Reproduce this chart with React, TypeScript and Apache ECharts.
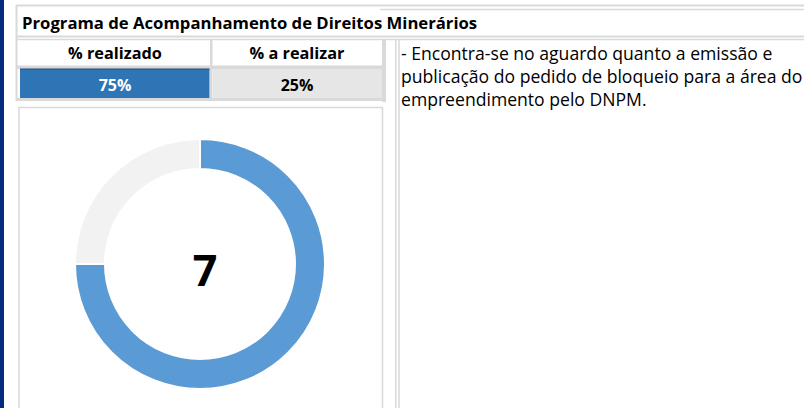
import React, { useEffect, useRef } from "react";
import * as echarts from "echarts";

const titleText = "Programa de Acompanhamento de Direitos Minerários";
const categories = ["% realizado", "% a realizar"];
const percentValues = [75, 25];
const centerLabel = "7";
const noteLines = [
  "- Encontra-se no aguardo quanto a emissão e",
  "publicação do pedido de bloqueio para a área do",
  "empreendimento pelo DNPM.",
];

const FONT = "'Open Sans', Lato, sans-serif";
const GRID = "#d9d9d9";

export default function App() {
  const ref = useRef<HTMLDivElement>(null);
  useEffect(() => {
    if (!ref.current) return;
    const chart = echarts.init(ref.current, undefined, { renderer: "svg" });
    const hline = (x1: number, x2: number, y: number, w = 2) => ({
      type: "line",
      shape: { x1, y1: y, x2, y2: y },
      style: { stroke: GRID, lineWidth: w },
      silent: true,
    });
    const vline = (x: number, y1: number, y2: number, w = 2) => ({
      type: "line",
      shape: { x1: x, y1, x2: x, y2 },
      style: { stroke: GRID, lineWidth: w },
      silent: true,
    });
    const txt = (
      text: string,
      x: number,
      y: number,
      size: number,
      weight: string,
      align: string,
      fill = "#000"
    ) => ({
      type: "text",
      x,
      y,
      style: {
        text,
        fill,
        font: `${weight} ${size}px ${FONT}`,
        align,
        verticalAlign: "middle",
      },
      silent: true,
    });

    const graphic: any[] = [
      { type: "rect", shape: { x: 0, y: 0, width: 4, height: 408 }, style: { fill: "#062a7d" } },
      // title row
      hline(16, 804, 5.5),
      hline(380, 804, 9.5, 1.5),
      hline(16, 804, 36.5),
      hline(16, 804, 39.5, 1.5),
      vline(16.5, 5, 101),
      txt(titleText, 22, 22, 16.7, "bold", "left"),
      // header row
      { type: "rect", shape: { x: 210, y: 40, width: 2.5, height: 58 }, style: { fill: GRID } },
      { type: "rect", shape: { x: 382, y: 40, width: 4, height: 62 }, style: { fill: GRID } },
      { type: "rect", shape: { x: 17, y: 65.5, width: 369, height: 3.5 }, style: { fill: GRID } },
      txt(categories[0], 115, 53, 16.3, "bold", "center"),
      txt(categories[1], 297, 53, 16.3, "bold", "center"),
      // value row
      { type: "rect", shape: { x: 20, y: 69, width: 189.5, height: 29 }, style: { fill: "#2e75b6" } },
      { type: "rect", shape: { x: 20, y: 68.5, width: 189.5, height: 1 }, style: { fill: "#1f4e79" } },
      { type: "rect", shape: { x: 213, y: 69, width: 169, height: 29 }, style: { fill: "#e7e6e6" } },
      txt(percentValues[0] + "%", 115, 85, 16, "bold", "center", "#ffffff"),
      txt(percentValues[1] + "%", 297, 85, 16, "bold", "center", "#000"),
      { type: "rect", shape: { x: 16, y: 98, width: 370, height: 3 }, style: { fill: GRID } },
      // chart box
      {
        type: "rect",
        shape: { x: 19, y: 107.5, width: 363.5, height: 310 },
        style: { fill: "none", stroke: GRID, lineWidth: 1.5 },
        silent: true,
      },
      // right panel
      vline(395.8, 40, 408, 1.5),
      vline(399, 40, 408, 1.5),
      ...noteLines.map((l, i) => txt(l, 401, 52.5 + i * 23, 17.6, "normal", "left")),
      // center label
      txt(centerLabel, 205, 269, 43, "bold", "center"),
    ];

    chart.setOption({
      animation: false,
      graphic,
      series: [
        {
          type: "pie",
          center: [200, 264],
          radius: [95, 125],
          startAngle: 90,
          clockwise: true,
          label: { show: false },
          labelLine: { show: false },
          silent: true,
          itemStyle: { borderColor: "#ffffff", borderWidth: 2 },
          data: categories.map((c, i) => ({
            name: c,
            value: percentValues[i],
            itemStyle: { color: i === 0 ? "#5b9bd5" : "#f2f2f2" },
          })),
        },
      ],
    });
    return () => chart.dispose();
  }, []);
  return (
    <div
      ref={ref}
      style={{ position: "fixed", left: 0, top: 0, width: 804, height: 408, background: "#fff" }}
    />
  );
}
